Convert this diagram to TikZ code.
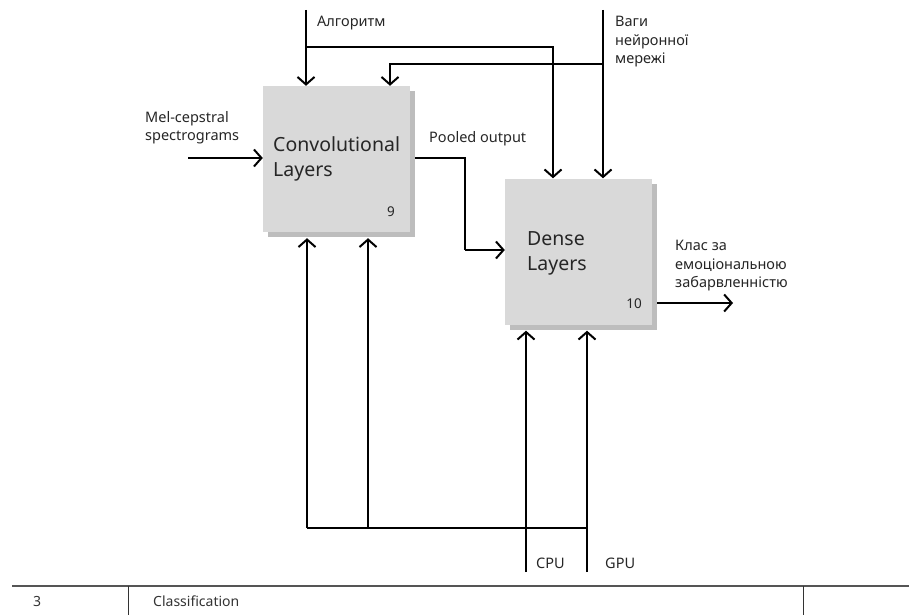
\documentclass[tikz,border=0pt]{standalone}
\usepackage{fontspec}
\setmainfont{Noto Sans}
\usetikzlibrary{arrows.meta,shadows}
\definecolor{boxfill}{HTML}{D9D9D9}
\definecolor{boxshade}{HTML}{BDBDBD}
\definecolor{rule}{HTML}{555555}
\begin{document}
\begin{tikzpicture}[x=1pt,y=-1pt,
  block/.style={fill=boxfill, draw=none, minimum width=147pt, minimum height=146pt,
    drop shadow={shadow xshift=5pt, shadow yshift=-5pt, opacity=1, fill=boxshade}},
  title/.style={anchor=north west, inner sep=0pt, align=left, font=\fontsize{19.5}{25}\selectfont, text=black!85},
  num/.style={inner sep=0pt, font=\fontsize{13.5}{16}\selectfont, text=black!85},
  lbl/.style={anchor=north west, inner sep=0pt, align=left, font=\fontsize{14.5}{18.5}\selectfont, text=black!85},
  foot/.style={anchor=north west, inner sep=0pt, font=\fontsize{14}{16}\selectfont, text=black!80},
  wire/.style={line width=2pt, black},
  arr/.style={wire, -{Straight Barb[length=7.5pt,width=17pt,line width=2pt]}}]
\useasboundingbox (0,0) rectangle (909,615);

% activity boxes
\node[block] (conv) at (336.5,159) {};
\node[block] (dense) at (578.5,251.5) {};
\node[title] (convT) at (273,136) {Convolutional\\Layers};
\node[title] (denseT) at (527,231) {Dense\\Layers};
\node[num] (convN) at (391,212) {9};
\node[num] (denseN) at (634,304) {10};

% helper points on the wires
\coordinate (algTop) at (306,10);
\coordinate (algJ) at (306,47);
\coordinate (algR) at (553,47);
\coordinate (wTop) at (603,10);
\coordinate (wJ) at (603,64);
\coordinate (wL) at (390,64);
\coordinate (melIn) at (188,158);
\coordinate (poolA) at (465,158);
\coordinate (poolB) at (465,250);
\coordinate (outEnd) at (733,303);
\coordinate (cpuBot) at (526,572);
\coordinate (gpuBot) at (587,572);
\coordinate (busL) at (307,528);
\coordinate (busM) at (368,528);
\coordinate (busR) at (587,528);

% controls from the top
\draw[arr] (algTop) -- (algTop |- conv.north);
\draw[arr] (algJ) -- (algR) -- (algR |- dense.north);
\draw[arr] (wTop) -- (wTop |- dense.north);
\draw[arr] (wJ) -- (wL) -- (wL |- conv.north);

% inputs and outputs
\draw[arr] (melIn) -- (conv.west |- melIn);
\draw[wire, line width=1.5pt] ([xshift=5pt]conv.east |- poolA) -- (poolA) -- (poolB);
\draw[arr] (poolB) -- (dense.west |- poolB);
\draw[arr] ([xshift=5pt]dense.east |- outEnd) -- (outEnd);

% mechanisms from below
\draw[arr] (cpuBot) -- ([yshift=-6pt]cpuBot |- dense.south);
\draw[arr] (gpuBot) -- ([yshift=-6pt]gpuBot |- dense.south);
\draw[wire, line width=1.6pt] (busL) -- (busR);
\draw[arr] (busL) -- ([yshift=-6pt]busL |- conv.south);
\draw[arr] (busM) -- ([yshift=-6pt]busM |- conv.south);

% labels
\node[lbl] (lAlg) at (317,16) {Алгоритм};
\node[lbl] (lW) at (615,16) {Ваги\\нейронної\\мережі};
\node[lbl] (lMel) at (145,111) {Mel-cepstral\\spectrograms};
\node[lbl] (lPool) at (429,131) {Pooled output};
\node[lbl] (lOut) at (675,240) {Клас за\\емоціональною\\забарвленністю};
\node[lbl] (lCpu) at (536,558) {CPU};
\node[lbl] (lGpu) at (605,558) {GPU};

% footer strip
\draw[rule, line width=1.5pt] (12,586) -- (909,586);
\draw[black!80, line width=0.8pt] (128,586) -- (128,615);
\draw[black!80, line width=0.8pt] (803,586) -- (803,615);
\node[foot] (fNum) at (33,596) {3};
\node[foot] (fName) at (153,596) {Classification};
\end{tikzpicture}
\end{document}
